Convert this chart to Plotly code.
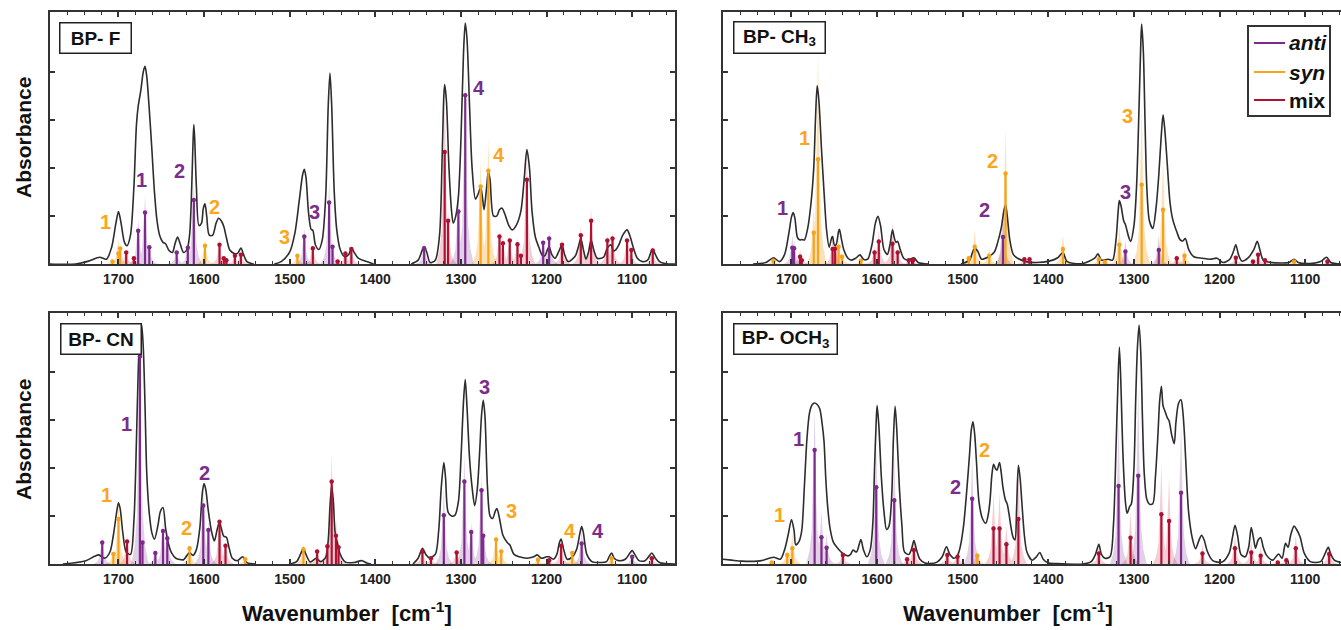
import plotly.graph_objects as go

W, H = 1341, 630
FONT = "Liberation Sans, Arial, sans-serif"
ANTI_C, SYN_C, MIX_C = "#7D2A8C", "#F7A21B", "#AE1233"
ANTI_F, SYN_F, MIX_F = "rgba(125,42,140,0.22)", "rgba(247,162,27,0.32)", "rgba(200,30,60,0.22)"

# ---------------- BP-F ----------------
F_CURVE = [(1780, 0.0), (1750, 0.0), (1735, 0.06), (1722, 0.14), (1714, 0.1), (1708, 0.35), (1703, 0.85),
           (1700, 1.09), (1697, 0.85), (1693, 0.45), (1690, 0.38), (1686, 0.6), (1682, 1.6), (1679, 2.9),
           (1677, 3.28), (1674, 3.6), (1671, 4.0), (1669, 4.11), (1667, 3.9), (1664, 3.2), (1661, 2.38),
           (1658, 1.5), (1655, 0.9), (1652, 0.6), (1648, 0.45), (1645, 0.42), (1641, 0.28), (1637, 0.24),
           (1634, 0.42), (1631, 0.56), (1628, 0.42), (1624, 0.24), (1620, 0.3), (1617, 0.6), (1615, 1.3),
           (1613, 2.5), (1612, 2.9), (1611, 2.6), (1609, 1.6), (1606, 0.8), (1603, 0.85), (1601, 1.15),
           (1599, 1.25), (1597, 1.0), (1594, 0.6), (1590, 0.6), (1586, 0.85), (1583, 0.95), (1580, 0.9),
           (1577, 0.78), (1574, 0.55), (1570, 0.29), (1565, 0.22), (1561, 0.22), (1557, 0.33), (1554, 0.2),
           (1550, 0.05), (1542, 0.0), None,
           (1518, 0.0), (1510, 0.05), (1500, 0.25), (1494, 0.64), (1489, 1.3), (1485, 1.85), (1483, 1.97),
           (1481, 1.8), (1478, 1.06), (1475, 0.72), (1473, 0.7), (1470, 0.4), (1466, 0.3), (1462, 0.5),
           (1458, 1.4), (1455, 3.3), (1453, 3.97), (1451, 3.3), (1448, 1.5), (1445, 0.7), (1441, 0.3),
           (1436, 0.15), (1431, 0.2), (1428, 0.33), (1425, 0.25), (1420, 0.12), (1412, 0.06), (1402, 0.0), None,
           (1358, 0.0), (1350, 0.08), (1345, 0.3), (1343, 0.36), (1340, 0.25), (1336, 0.03), (1330, 0.08),
           (1325, 0.6), (1322, 2.2), (1320, 3.5), (1319, 3.73), (1317, 3.4), (1314, 2.0), (1311, 1.1),
           (1309, 0.85), (1306, 1.0), (1303, 1.4), (1300, 2.6), (1297, 4.4), (1295, 5.01), (1293, 4.7),
           (1290, 3.3), (1287, 2.0), (1283, 1.35), (1279, 1.5), (1277, 1.61), (1275, 1.4), (1273, 1.13),
           (1270, 1.6), (1268, 1.92), (1266, 1.75), (1262, 1.0), (1258, 1.0), (1255, 1.13), (1252, 1.16),
           (1248, 1.0), (1244, 0.8), (1240, 0.71), (1235, 0.82), (1230, 1.1), (1226, 1.8), (1223, 2.38),
           (1220, 2.0), (1217, 1.1), (1213, 0.55), (1209, 0.35), (1205, 0.18), (1202, 0.17), (1199, 0.3),
           (1197, 0.36), (1194, 0.2), (1190, 0.12), (1186, 0.25), (1182, 0.4), (1179, 0.2), (1175, 0.05),
           (1170, 0.1), (1166, 0.18), (1163, 0.35), (1160, 0.53), (1157, 0.3), (1154, 0.1), (1151, 0.25),
           (1148, 0.5), (1145, 0.3), (1141, 0.12), (1136, 0.12), (1133, 0.15), (1129, 0.33), (1125, 0.4),
           (1122, 0.27), (1119, 0.3), (1116, 0.38), (1111, 0.6), (1106, 0.71), (1102, 0.55), (1099, 0.36),
           (1094, 0.12), (1088, 0.05), (1082, 0.08), (1078, 0.25), (1076, 0.31), (1073, 0.2), (1068, 0.05),
           (1058, 0.0), (1050, 0.0)]
# (wavenumber, stick height, band height)
F_ANTI = [(1677, 0.69, 0.95), (1669, 1.07, 1.44), (1664, 0.35, 0.45), (1632, 0.24, 0.3), (1619, 0.34, 0.4),
          (1612, 1.33, 1.75), (1483, 0.57, 0.75), (1454, 1.28, 1.72), (1450, 0.36, 0.45), (1343, 0.33, 0.45),
          (1303, 1.09, 1.47), (1295, 3.51, 4.0), (1204, 0.44, 0.55), (1197, 0.53, 0.7)]
F_SYN = [(1707, 0.05, 0.08), (1700, 0.22, 0.53), (1698, 0.32, 0.4), (1599, 0.38, 0.5), (1491, 0.17, 0.22),
         (1277, 1.61, 2.17), (1268, 1.94, 2.62)]
F_MIX = [(1691, 0.24, 0.3), (1682, 0.12, 0.15), (1582, 0.4, 0.5), (1577, 0.12, 0.15), (1574, 0.08, 0.1),
         (1564, 0.17, 0.2), (1557, 0.19, 0.25), (1473, 0.33, 0.4), (1444, 0.05, 0.06), (1435, 0.22, 0.28),
         (1428, 0.31, 0.35), (1319, 2.33, 3.5), (1315, 0.9, 1.1), (1255, 0.57, 0.7), (1251, 0.43, 0.6),
         (1243, 0.49, 0.6), (1234, 0.41, 0.55), (1230, 0.17, 0.2), (1223, 1.75, 2.34), (1182, 0.4, 0.5),
         (1160, 0.6, 0.8), (1148, 0.9, 1.16), (1129, 0.49, 0.6), (1123, 0.53, 0.7), (1106, 0.49, 0.6),
         (1101, 0.29, 0.35), (1076, 0.28, 0.3)]
F_LABELS = [("1", "syn", 1715, 0.88), ("1", "anti", 1673, 1.75), ("2", "anti", 1629, 1.94),
            ("2", "syn", 1588, 1.18), ("3", "syn", 1506, 0.57), ("3", "anti", 1471, 1.09),
            ("4", "anti", 1279, 3.66), ("4", "syn", 1256, 2.27)]

# ---------------- BP-CH3 ----------------
M_CURVE = [(1745, 0.0), (1730, 0.03), (1721, 0.13), (1714, 0.05), (1708, 0.2), (1703, 0.65), (1700, 0.98),
           (1698, 1.07), (1696, 0.95), (1693, 0.55), (1690, 0.5), (1688, 0.51), (1685, 0.5), (1681, 0.75),
           (1677, 1.3), (1674, 2.0), (1672, 3.0), (1670, 3.71), (1668, 3.4), (1665, 2.4), (1662, 1.5),
           (1659, 0.7), (1656, 0.35), (1653, 0.55), (1652, 0.57), (1650, 0.4), (1648, 0.4), (1645, 0.68),
           (1644, 0.72), (1642, 0.55), (1639, 0.3), (1634, 0.12), (1630, 0.08), (1625, 0.12), (1620, 0.19),
           (1616, 0.1), (1611, 0.1), (1606, 0.4), (1602, 0.85), (1599, 0.99), (1596, 0.8), (1592, 0.3),
           (1588, 0.2), (1585, 0.4), (1582, 0.71), (1580, 0.55), (1578, 0.45), (1576, 0.47), (1573, 0.3),
           (1569, 0.12), (1564, 0.08), (1557, 0.13), (1552, 0.03), (1540, 0.0), None,
           (1502, 0.0), (1492, 0.08), (1489, 0.22), (1486, 0.33), (1482, 0.25), (1478, 0.1), (1470, 0.15),
           (1463, 0.25), (1459, 0.46), (1455, 0.75), (1452, 1.1), (1450, 1.23), (1448, 1.0), (1445, 0.5),
           (1441, 0.2), (1436, 0.12), (1426, 0.05), (1414, 0.03), (1399, 0.06), (1389, 0.13), (1383, 0.24),
           (1378, 0.05), (1360, 0.01), (1346, 0.12), (1342, 0.21), (1338, 0.08), (1330, 0.1), (1325, 0.08),
           (1321, 0.5), (1318, 1.2), (1317, 1.32), (1315, 1.2), (1312, 0.9), (1310, 0.82), (1306, 0.55),
           (1304, 0.47), (1300, 0.8), (1297, 1.6), (1294, 3.3), (1292, 4.6), (1291, 4.99), (1289, 4.4),
           (1287, 2.9), (1285, 1.6), (1282, 0.9), (1278, 0.74), (1274, 1.2), (1271, 1.85), (1268, 2.7),
           (1266, 3.1), (1264, 2.8), (1261, 2.05), (1258, 1.3), (1255, 0.95), (1250, 0.67), (1246, 0.5),
           (1243, 0.48), (1240, 0.53), (1236, 0.3), (1230, 0.15), (1220, 0.12), (1211, 0.1), (1203, 0.12),
           (1196, 0.03), (1188, 0.1), (1184, 0.25), (1181, 0.4), (1178, 0.2), (1174, 0.06), (1167, 0.12),
           (1160, 0.3), (1156, 0.47), (1153, 0.3), (1149, 0.08), (1143, 0.04), (1128, 0.02), (1119, 0.03),
           (1113, 0.1), (1108, 0.03), (1094, 0.01), (1082, 0.05), (1075, 0.14), (1070, 0.03), (1058, 0.0)]
M_ANTI = [(1699, 0.34, 0.6), (1697, 0.33, 0.5), (1453, 0.56, 1.13), (1310, 0.26, 0.5), (1271, 0.29, 0.6)]
M_SYN = [(1721, 0.07, 0.1), (1674, 0.65, 1.2), (1669, 2.18, 4.42), (1645, 0.36, 0.5), (1641, 0.15, 0.2),
         (1619, 0.07, 0.1), (1493, 0.12, 0.2), (1486, 0.36, 0.71), (1469, 0.17, 0.31), (1450, 1.88, 2.79),
         (1383, 0.31, 0.6), (1341, 0.1, 0.15), (1334, 0.04, 0.06), (1317, 0.4, 0.81), (1291, 1.65, 3.31),
         (1266, 1.13, 2.27), (1241, 0.17, 0.33), (1113, 0.05, 0.08)]
M_MIX = [(1690, 0.15, 0.3), (1688, 0.08, 0.1), (1652, 0.31, 0.55), (1649, 0.32, 0.4), (1603, 0.24, 0.35),
         (1598, 0.47, 0.7), (1582, 0.42, 0.88), (1576, 0.24, 0.35), (1563, 0.08, 0.1), (1558, 0.08, 0.1),
         (1428, 0.1, 0.15), (1422, 0.1, 0.15), (1250, 0.12, 0.2), (1181, 0.13, 0.2), (1161, 0.05, 0.08),
         (1155, 0.19, 0.25), (1147, 0.08, 0.1), (1074, 0.05, 0.08)]
M_LABELS = [("1", "anti", 1710, 1.17), ("1", "syn", 1685, 2.62), ("2", "anti", 1474, 1.13),
            ("2", "syn", 1465, 2.15), ("3", "anti", 1310, 1.49), ("3", "syn", 1307, 3.08)]

# ---------------- BP-CN ----------------
C_CURVE = [(1765, 0.0), (1738, 0.07), (1728, 0.16), (1723, 0.19), (1716, 0.12), (1710, 0.25), (1706, 0.6),
           (1702, 1.1), (1700, 1.28), (1698, 1.15), (1695, 0.66), (1691, 0.25), (1686, 0.2), (1682, 0.9),
           (1679, 2.6), (1677, 4.0), (1675, 4.8), (1673, 5.0), (1671, 4.5), (1669, 3.3), (1667, 1.9),
           (1664, 1.05), (1661, 0.65), (1658, 0.52), (1654, 0.8), (1651, 1.1), (1648, 1.18), (1645, 0.75),
           (1642, 0.45), (1638, 0.23), (1633, 0.12), (1624, 0.09), (1620, 0.18), (1617, 0.24), (1613, 0.18),
           (1609, 0.3), (1605, 0.75), (1602, 1.5), (1600, 1.68), (1598, 1.55), (1595, 1.1), (1591, 0.65),
           (1588, 0.48), (1585, 0.7), (1582, 0.88), (1580, 0.75), (1577, 0.58), (1574, 0.56), (1571, 0.35),
           (1567, 0.12), (1561, 0.07), (1555, 0.15), (1550, 0.03), (1540, 0.0), None,
           (1500, 0.0), (1492, 0.05), (1487, 0.22), (1484, 0.33), (1481, 0.2), (1476, 0.04), (1469, 0.12),
           (1464, 0.05), (1458, 0.14), (1455, 0.5), (1453, 1.2), (1451, 1.63), (1449, 1.3), (1447, 0.66),
           (1444, 0.42), (1441, 0.2), (1435, 0.04), (1425, 0.03), (1416, 0.07), (1410, 0.02), (1405, 0.0), None,
           (1356, 0.0), (1350, 0.12), (1345, 0.33), (1341, 0.2), (1337, 0.13), (1330, 0.2), (1326, 0.7),
           (1323, 1.6), (1320, 2.12), (1318, 1.8), (1315, 1.08), (1311, 1.0), (1307, 1.02), (1303, 1.3),
           (1300, 2.2), (1297, 3.4), (1295, 3.85), (1293, 3.3), (1290, 2.22), (1287, 1.6), (1284, 1.22),
           (1281, 1.55), (1278, 2.4), (1276, 3.1), (1274, 3.42), (1272, 3.1), (1269, 1.6), (1266, 1.0),
           (1263, 0.95), (1260, 1.1), (1258, 1.16), (1255, 0.95), (1251, 0.6), (1246, 0.45), (1243, 0.4),
           (1238, 0.2), (1232, 0.15), (1223, 0.12), (1215, 0.15), (1211, 0.19), (1206, 0.12), (1200, 0.15),
           (1197, 0.15), (1192, 0.1), (1188, 0.2), (1185, 0.45), (1183, 0.52), (1180, 0.3), (1176, 0.1),
           (1170, 0.15), (1165, 0.3), (1161, 0.65), (1159, 0.78), (1157, 0.65), (1153, 0.2), (1147, 0.05),
           (1138, 0.03), (1130, 0.05), (1127, 0.15), (1124, 0.23), (1121, 0.12), (1116, 0.07), (1108, 0.1),
           (1103, 0.22), (1100, 0.28), (1097, 0.2), (1092, 0.07), (1085, 0.07), (1080, 0.17), (1077, 0.23),
           (1073, 0.12), (1068, 0.03), (1050, 0.0)]
C_ANTI = [(1719, 0.45, 0.6), (1675, 4.33, 5.0), (1672, 0.45, 0.6), (1657, 0.23, 0.3), (1648, 0.69, 0.9),
          (1643, 0.54, 0.7), (1601, 1.22, 1.6), (1595, 0.71, 0.9), (1320, 1.02, 1.6), (1296, 1.72, 2.29),
          (1288, 0.67, 0.88), (1276, 1.54, 1.9), (1274, 0.59, 0.8), (1159, 0.43, 0.7), (1100, 0.15, 0.2)]
C_SYN = [(1706, 0.21, 0.3), (1700, 0.94, 1.3), (1617, 0.33, 0.4), (1552, 0.1, 0.12), (1484, 0.31, 0.42),
         (1259, 0.51, 0.66), (1253, 0.26, 0.35), (1210, 0.09, 0.12), (1170, 0.23, 0.3), (1124, 0.12, 0.15)]
C_MIX = [(1690, 0.47, 0.63), (1582, 0.88, 0.95), (1575, 0.38, 0.5), (1468, 0.26, 0.35), (1456, 0.37, 0.5),
         (1451, 1.72, 2.29), (1446, 0.59, 0.97), (1443, 0.35, 0.45), (1345, 0.26, 0.35), (1335, 0.12, 0.15),
         (1305, 0.24, 0.3), (1197, 0.08, 0.1), (1183, 0.38, 0.52), (1077, 0.12, 0.15)]
C_LABELS = [("1", "syn", 1714, 1.44), ("1", "anti", 1691, 2.92), ("2", "syn", 1621, 0.75),
            ("2", "anti", 1600, 1.91), ("3", "anti", 1273, 3.70), ("3", "syn", 1241, 1.10),
            ("4", "syn", 1173, 0.69), ("4", "anti", 1140, 0.69)]

# ---------------- BP-OCH3 ----------------
O_CURVE = [(1781, 0.1), (1770, 0.08), (1758, 0.06), (1740, 0.06), (1733, 0.08), (1721, 0.14), (1713, 0.1),
           (1708, 0.3), (1704, 0.6), (1700, 0.93), (1697, 0.7), (1695, 0.4), (1691, 0.48), (1688, 0.7),
           (1685, 1.6), (1682, 2.6), (1679, 3.15), (1676, 3.32), (1673, 3.36), (1670, 3.33), (1667, 3.24),
           (1664, 2.9), (1662, 2.56), (1660, 1.8), (1658, 1.25), (1655, 0.75), (1651, 0.45), (1647, 0.35),
           (1640, 0.22), (1634, 0.17), (1631, 0.2), (1628, 0.29), (1624, 0.25), (1619, 0.51), (1616, 0.3),
           (1612, 0.15), (1608, 0.3), (1605, 0.85), (1603, 2.0), (1601, 3.0), (1600, 3.31), (1598, 2.9),
           (1595, 1.8), (1592, 1.1), (1589, 0.72), (1586, 0.8), (1583, 1.4), (1581, 2.6), (1579, 3.29),
           (1577, 2.8), (1574, 1.6), (1571, 0.8), (1568, 0.25), (1563, 0.2), (1560, 0.3), (1557, 0.49),
           (1554, 0.3), (1550, 0.1), (1544, 0.02), (1539, 0.01), (1530, 0.04), (1524, 0.15), (1519, 0.36),
           (1515, 0.2), (1510, 0.12), (1506, 0.18), (1503, 0.35), (1499, 0.8), (1495, 1.6), (1492, 2.3),
           (1490, 2.8), (1488, 2.97), (1486, 2.7), (1484, 2.15), (1481, 1.3), (1477, 0.95), (1473, 0.85),
           (1470, 1.05), (1468, 1.35), (1466, 1.85), (1464, 2.08), (1462, 2.0), (1460, 1.96), (1457, 2.12),
           (1455, 1.9), (1453, 1.6), (1450, 1.33), (1448, 1.25), (1446, 1.05), (1443, 0.7), (1441, 0.55),
           (1439, 0.5), (1437, 1.2), (1435, 2.06), (1433, 1.8), (1431, 1.3), (1428, 0.6), (1425, 0.25),
           (1419, 0.08), (1414, 0.15), (1410, 0.24), (1406, 0.1), (1400, 0.02), (1389, 0.01), (1360, 0.0),
           (1350, 0.05), (1345, 0.2), (1341, 0.41), (1338, 0.2), (1334, 0.12), (1328, 0.15), (1324, 0.8),
           (1321, 2.4), (1319, 3.6), (1317, 4.53), (1315, 3.6), (1313, 2.35), (1310, 1.3), (1308, 1.06),
           (1305, 1.2), (1303, 1.26), (1300, 2.0), (1298, 3.4), (1296, 4.5), (1294, 4.99), (1292, 4.4),
           (1290, 3.0), (1288, 1.9), (1285, 1.35), (1282, 1.25), (1278, 1.26), (1275, 1.8), (1272, 2.7),
           (1270, 3.4), (1268, 3.71), (1266, 3.3), (1264, 3.2), (1261, 3.05), (1259, 2.99), (1256, 2.7),
           (1253, 2.51), (1251, 2.95), (1248, 3.35), (1245, 3.43), (1243, 3.2), (1241, 2.7), (1238, 1.6),
           (1236, 1.05), (1232, 0.55), (1228, 0.32), (1224, 0.5), (1221, 0.6), (1218, 0.5), (1214, 0.25),
           (1208, 0.07), (1197, 0.04), (1189, 0.22), (1185, 0.55), (1182, 0.81), (1179, 0.6), (1175, 0.2),
           (1170, 0.15), (1166, 0.35), (1163, 0.76), (1160, 0.5), (1158, 0.33), (1155, 0.5), (1152, 0.55),
           (1149, 0.35), (1145, 0.18), (1138, 0.08), (1131, 0.21), (1127, 0.12), (1123, 0.43), (1120, 0.35),
           (1117, 0.6), (1113, 0.79), (1110, 0.72), (1106, 0.57), (1101, 0.22), (1094, 0.05), (1082, 0.05),
           (1076, 0.25), (1073, 0.35), (1070, 0.2), (1066, 0.08), (1058, 0.03)]
O_ANTI = [(1673, 2.38, 3.3), (1665, 0.56, 1.13), (1659, 0.34, 0.64), (1601, 1.6, 2.5), (1580, 1.33, 2.3),
          (1489, 1.36, 2.3), (1318, 1.63, 3.0), (1295, 1.84, 3.7), (1245, 1.49, 3.0)]
O_SYN = [(1723, 0.03, 0.05), (1705, 0.19, 0.3), (1699, 0.33, 0.64), (1483, 0.17, 0.31)]
O_MIX = [(1640, 0.19, 0.3), (1565, 0.1, 0.15), (1557, 0.29, 0.55), (1518, 0.19, 0.3), (1506, 0.15, 0.29),
         (1464, 0.74, 1.51), (1457, 0.74, 1.51), (1449, 0.41, 0.81), (1435, 0.94, 2.0), (1341, 0.22, 0.36),
         (1304, 0.55, 1.09), (1268, 1.04, 2.1), (1259, 0.9, 1.82), (1220, 0.22, 0.4), (1182, 0.33, 0.6),
         (1163, 0.24, 0.5), (1152, 0.17, 0.35), (1132, 0.03, 0.05), (1122, 0.08, 0.15), (1111, 0.33, 0.6),
         (1072, 0.21, 0.4)]
O_LABELS = [("1", "syn", 1714, 1.02), ("1", "anti", 1692, 2.62), ("2", "anti", 1509, 1.6),
            ("2", "syn", 1474, 2.39)]

PANEL_NAMES = ["BP- F", "BP- CH<sub>3</sub>", "BP- CN", "BP- OCH<sub>3</sub>"]
TICK_VALUES = [1700, 1600, 1500, 1400, 1300, 1200, 1100]
LEGEND_NAMES = ["<b><i>anti</i></b>", "<b><i>syn</i></b>", "<b>mix</b>"]

# ---------------- layout geometry (pixels) ----------------
LEFT_X = (50, 675)
RIGHT_X = (723, 1341)
TOP_Y = (12, 264)
BOT_Y = (313, 564)
PX_PER_CM = (LEFT_X[1] - LEFT_X[0]) / 730.0
Y_TOP = 5.24

COLORS = {"anti": ANTI_C, "syn": SYN_C, "mix": MIX_C}
LABEL_COLORS = {"anti": "#7B2D8B", "syn": "#FBA61C"}
FILLS = {"anti": ANTI_F, "syn": SYN_F, "mix": MIX_F}
BAND_HALF = 10.0
BAND_OFF = [-1.0, -0.6, -0.35, -0.2, -0.08, 0.0, 0.08, 0.2, 0.35, 0.6, 1.0]
BAND_FRAC = [0.0, 0.08, 0.2, 0.4, 0.75, 1.0, 0.75, 0.4, 0.2, 0.08, 0.0]


def fx(px):
    return px / W


def fy(py):
    return 1 - py / H


panels = [
    dict(curve=F_CURVE, anti=F_ANTI, syn=F_SYN, mix=F_MIX, labels=F_LABELS, xd=LEFT_X, yd=TOP_Y),
    dict(curve=M_CURVE, anti=M_ANTI, syn=M_SYN, mix=M_MIX, labels=M_LABELS, xd=RIGHT_X, yd=TOP_Y),
    dict(curve=C_CURVE, anti=C_ANTI, syn=C_SYN, mix=C_MIX, labels=C_LABELS, xd=LEFT_X, yd=BOT_Y),
    dict(curve=O_CURVE, anti=O_ANTI, syn=O_SYN, mix=O_MIX, labels=O_LABELS, xd=RIGHT_X, yd=BOT_Y),
]

fig = go.Figure()
annotations = []
layout_axes = {}

for i, p in enumerate(panels):
    n = "" if i == 0 else str(i + 1)
    xa, ya = "x" + n, "y" + n
    # translucent bands
    for kind in ["mix", "syn", "anti"]:
        bx, by = [], []
        for wn, h, band in p[kind]:
            for o, f in zip(BAND_OFF, BAND_FRAC):
                bx.append(wn + o * BAND_HALF)
                by.append(band * f)
            bx.append(None)
            by.append(None)
        fig.add_trace(go.Scatter(x=bx, y=by, xaxis=xa, yaxis=ya, mode="lines", fill="toself",
                                 fillcolor=FILLS[kind], line=dict(width=0), hoverinfo="skip",
                                 showlegend=False))
    # measured spectrum
    cx = [pt[0] if pt else None for pt in p["curve"]]
    cy = [pt[1] if pt else None for pt in p["curve"]]
    fig.add_trace(go.Scatter(x=cx, y=cy, xaxis=xa, yaxis=ya, mode="lines", connectgaps=False,
                             line=dict(color="#2d2d2d", width=1.6, shape="spline", smoothing=0.8),
                             hoverinfo="skip", showlegend=False))
    # sticks
    for kind in ["mix", "syn", "anti"]:
        sx, sy = [], []
        for wn, h, band in p[kind]:
            sx += [wn, wn, None]
            sy += [0, h, None]
        fig.add_trace(go.Scatter(x=sx, y=sy, xaxis=xa, yaxis=ya, mode="lines",
                                 line=dict(color=COLORS[kind], width=2.2), hoverinfo="skip",
                                 showlegend=False))
        fig.add_trace(go.Scatter(x=[s[0] for s in p[kind]], y=[s[1] for s in p[kind]], xaxis=xa, yaxis=ya,
                                 mode="markers", marker=dict(color=COLORS[kind], size=4.5),
                                 hoverinfo="skip", showlegend=False))
    # peak labels
    for txt, kind, wn, yv in p["labels"]:
        annotations.append(dict(x=wn, y=yv, xref=xa, yref=ya, xanchor="center", yanchor="middle",
                                text="<b>%s</b>" % txt, showarrow=False,
                                font=dict(family=FONT, size=20, color=LABEL_COLORS[kind])))
    x0, x1 = p["xd"]
    y0, y1 = p["yd"]
    xr_end = 1780 - (x1 - x0) / PX_PER_CM
    right = x1 >= W
    layout_axes["xaxis" + n] = dict(
        domain=[fx(x0), fx(x1)], range=[1780, xr_end], anchor=ya,
        showline=True, linecolor="#333", linewidth=2, mirror="ticks",
        ticks="inside", ticklen=5, tickwidth=1.5, tickcolor="#333",
        tickmode="array", tickvals=TICK_VALUES, ticktext=[str(v) for v in TICK_VALUES],
        tickfont=dict(family=FONT, size=14, color="#222", weight="bold"),
        minor=dict(dtick=20, tick0=0, ticks="inside", ticklen=3, tickwidth=1.2, tickcolor="#333"),
        showgrid=False, zeroline=False, ticklabelstandoff=1, fixedrange=True)
    layout_axes["yaxis" + n] = dict(
        domain=[fy(y1), fy(y0)], range=[0, Y_TOP], anchor=xa,
        showline=True, linecolor="#333", linewidth=2, mirror=False if right else "ticks",
        ticks="inside", ticklen=5, tickwidth=1.5, tickcolor="#333",
        tickmode="array", tickvals=[1, 2, 3, 4], showticklabels=False,
        showgrid=False, zeroline=False, fixedrange=True)

# panel name boxes
BOXES = [(59, 22, 68, 27), (733, 21, 88, 28), (60, 323, 77, 27), (733, 323, 100, 27)]
for name, (bx, by, bw, bh) in zip(PANEL_NAMES, BOXES):
    annotations.append(dict(x=fx(bx), y=fy(by), xref="paper", yref="paper", xanchor="left", yanchor="top",
                            text="<b>%s</b>" % name, showarrow=False, width=bw, height=bh, align="center",
                            valign="middle", bgcolor="white", bordercolor="#222", borderwidth=1.5,
                            borderpad=1, font=dict(family=FONT, size=19, color="#111")))

# axis titles
for yc in [138, 440]:
    annotations.append(dict(x=fx(23), y=fy(yc), xref="paper", yref="paper", xanchor="center",
                            yanchor="middle", text="<b>Absorbance</b>", textangle=-90, showarrow=False,
                            font=dict(family=FONT, size=21, color="#111")))
for xc in [347, 1008]:
    annotations.append(dict(x=fx(xc), y=fy(612), xref="paper", yref="paper", xanchor="center",
                            yanchor="middle", text="<b>Wavenumber\u00a0 [cm<sup>-1</sup>]</b>",
                            showarrow=False, font=dict(family=FONT, size=22, color="#111")))

# legend (drawn manually)
shapes = [dict(type="rect", xref="paper", yref="paper", x0=fx(1248), x1=fx(1330), y0=fy(116), y1=fy(26),
               line=dict(color="#333", width=2), fillcolor="white", layer="above")]
for (kind, yy), label in zip([("anti", 43), ("syn", 72), ("mix", 100)], LEGEND_NAMES):
    shapes.append(dict(type="line", xref="paper", yref="paper", x0=fx(1254), x1=fx(1285), y0=fy(yy), y1=fy(yy),
                       line=dict(color=COLORS[kind], width=2), layer="above"))
    annotations.append(dict(x=fx(1287), y=fy(yy), xref="paper", yref="paper", xanchor="left", yanchor="middle",
                            text=label, showarrow=False, font=dict(family=FONT, size=21, color="#111")))

fig.update_layout(width=W, height=H, margin=dict(l=0, r=0, t=0, b=0), plot_bgcolor="white",
                  paper_bgcolor="white", showlegend=False, annotations=annotations, shapes=shapes,
                  **layout_axes)

fig.write_html("out.html", config={"displayModeBar": False})
